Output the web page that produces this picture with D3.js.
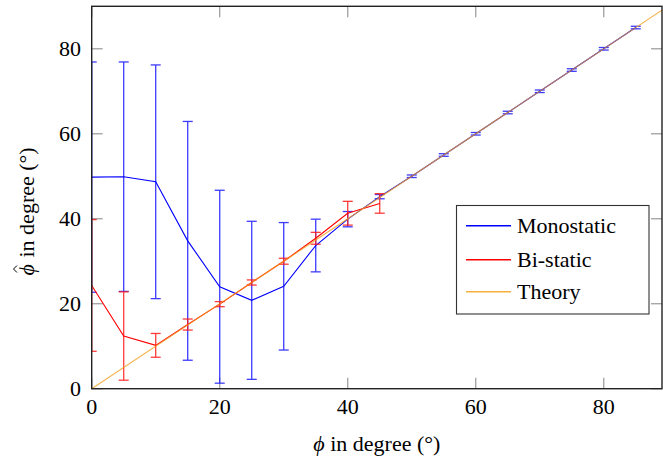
<!DOCTYPE html>
<html><head><meta charset="utf-8">
<script src="https://cdn.jsdelivr.net/npm/d3@7"></script>
</head><body style="margin:0">
<svg id="c" width="663" height="464"></svg>
<script>
// Data
const monoX   = [0, 5, 10, 15, 20, 25, 30, 35, 40, 45, 50, 55, 60, 65, 70, 75, 80, 85];
const monoY   = [49.8, 49.9, 48.7, 34.8, 24.0, 20.8, 24.1, 33.7, 39.9, 45.2, 50, 55, 60, 65, 70, 75, 80, 85];
const monoErr = [27.1, 27.0, 27.5, 28.1, 22.7, 18.6, 15.0, 6.2, 1.8, 0.5, 0.3, 0.3, 0.3, 0.3, 0.3, 0.3, 0.3, 0.3];
const biX     = [0, 5, 10, 15, 20, 25, 30, 35, 40, 45];
const biY     = [24.3, 12.4, 10.2, 15.1, 19.9, 25.0, 30.0, 35.4, 41.3, 43.6];
const biErr   = [15.5, 10.4, 2.8, 1.3, 0.6, 0.6, 0.7, 1.4, 2.8, 2.3];
const theoryX = [0, 90];
const theoryY = [0, 90];
const xTicks = [0, 20, 40, 60, 80];
const yTicks = [0, 20, 40, 60, 80];
const seriesNames = ["Monostatic", "Bi-static", "Theory"];

const L = 91.7, R = 662, T = 6.3, B = 388.7;
const x = d3.scaleLinear().domain([0, 89.1]).range([L, R]);
const y = d3.scaleLinear().domain([0, 90]).range([B, T]);
const svg = d3.select("#c");
const FF = "Liberation Serif, Times New Roman, serif";

svg.append("defs").append("clipPath").attr("id","clip")
  .append("rect").attr("x", L).attr("y", T).attr("width", R - L).attr("height", B - T);

// mirror ticks (gray, inward)
const tickLen = 11, tickCol = "#a0a0a0";
const tg = svg.append("g").attr("stroke", tickCol).attr("stroke-width", 1.3);
xTicks.forEach(v => {
  tg.append("line").attr("x1", x(v)).attr("x2", x(v)).attr("y1", B).attr("y2", B - tickLen);
  tg.append("line").attr("x1", x(v)).attr("x2", x(v)).attr("y1", T).attr("y2", T + tickLen);
});
yTicks.forEach(v => {
  tg.append("line").attr("y1", y(v)).attr("y2", y(v)).attr("x1", L).attr("x2", L + tickLen);
  tg.append("line").attr("y1", y(v)).attr("y2", y(v)).attr("x1", R).attr("x2", R - tickLen);
});

const plot = svg.append("g").attr("clip-path", "url(#clip)");
const line = d3.line().x(d => x(d[0])).y(d => y(d[1]));

function errorBars(xs, ys, es, col) {
  const g = plot.append("g").attr("stroke", col).attr("stroke-width", 1.3).attr("opacity", 0.85);
  xs.forEach((xv, i) => {
    const px = x(xv), top = y(ys[i] + es[i]), bot = y(ys[i] - es[i]);
    g.append("line").attr("x1", px).attr("x2", px).attr("y1", top).attr("y2", bot);
    g.append("line").attr("x1", px - 5).attr("x2", px + 5).attr("y1", top).attr("y2", top);
    g.append("line").attr("x1", px - 5).attr("x2", px + 5).attr("y1", bot).attr("y2", bot);
  });
}

errorBars(monoX, monoY, monoErr, "#1a1aff");
plot.append("path").datum(monoX.map((v, i) => [v, monoY[i]])).attr("d", line)
  .attr("fill", "none").attr("stroke", "#0000ff").attr("stroke-width", 1.1);
errorBars(biX, biY, biErr, "#ff1a1a");
plot.append("path").datum(biX.map((v, i) => [v, biY[i]])).attr("d", line)
  .attr("fill", "none").attr("stroke", "#ff0000").attr("stroke-width", 1.1);
plot.append("path").datum(theoryX.map((v, i) => [v, theoryY[i]])).attr("d", line)
  .attr("fill", "none").attr("stroke", "#f2a020").attr("stroke-width", 1.2).attr("opacity", 0.8);

// frame
svg.append("rect").attr("x", L).attr("y", T).attr("width", R - L).attr("height", B - T)
  .attr("fill", "none").attr("stroke", "#222").attr("stroke-width", 1.4);

// tick labels
const fs = 22;
xTicks.forEach(v => svg.append("text").attr("x", x(v)).attr("y", 414).attr("text-anchor", "middle")
  .attr("font-family", FF).attr("font-size", fs).attr("fill", "#000").text(v));
yTicks.forEach(v => svg.append("text").attr("x", 81).attr("y", y(v) + 7).attr("text-anchor", "end")
  .attr("font-family", FF).attr("font-size", fs).attr("fill", "#000").text(v));

// x axis label
const xl = svg.append("text").attr("x", (L + R) / 2).attr("y", 451).attr("text-anchor", "middle")
  .attr("font-family", FF).attr("font-size", fs).attr("fill", "#000");
xl.append("tspan").attr("font-style", "italic").text("ϕ");
xl.append("tspan").text(" in degree (°)");

// y axis label (rotated), hat drawn over phi
const ylg = svg.append("g").attr("transform", `translate(34,${(T + B) / 2}) rotate(-90)`);
const y0 = -78;
ylg.append("text").attr("x", y0).attr("y", 0).attr("font-family", FF).attr("font-size", fs)
  .attr("font-style", "italic").attr("fill", "#000").text("ϕ");
ylg.append("text").attr("x", y0 + 18).attr("y", 0).attr("font-family", FF).attr("font-size", fs)
  .attr("fill", "#000").text("in degree (°)");
const hx = y0 + 6.5;
ylg.append("path").attr("d", `M${hx - 3.5},-17 L${hx},-20.5 L${hx + 3.5},-17`)
  .attr("fill", "none").attr("stroke", "#000").attr("stroke-width", 1);

// legend
const lg = svg.append("g");
lg.append("rect").attr("x", 456.5).attr("y", 205.5).attr("width", 192.5).attr("height", 108.5)
  .attr("fill", "#fff").attr("stroke", "#333").attr("stroke-width", 1.1);
const legCols = ["#0000ff", "#ff0000", "#f5b040"];
const legY = [226, 260, 292];
seriesNames.forEach((n, i) => {
  lg.append("rect").attr("x", 466).attr("width", 45).attr("y", legY[i] - 1).attr("height", 1.5)
    .attr("fill", legCols[i]);
  lg.append("text").attr("x", 517).attr("y", legY[i] + 7)
    .attr("font-family", FF).attr("font-size", fs).attr("fill", "#000").text(n);
});
</script></body></html>
